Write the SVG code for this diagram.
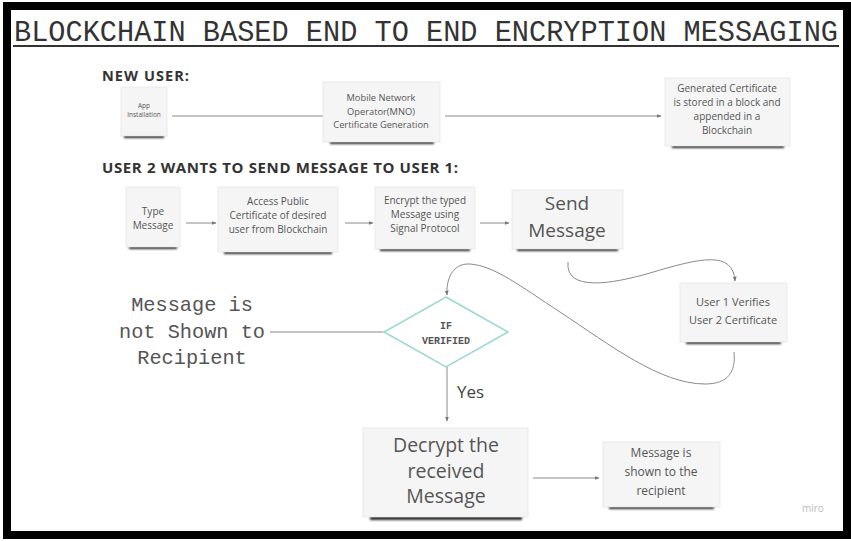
<svg xmlns="http://www.w3.org/2000/svg" width="851" height="541" viewBox="0 0 851 541">
<style>
.box{fill:#f5f5f5;stroke:#e6e6e6;stroke-width:0.8}
.sh{fill:#2a2a2a;filter:url(#blur)}
.t{font-family:"Open Sans","Liberation Sans",sans-serif;fill:#555;text-anchor:middle}
.mono{font-family:"Liberation Mono","DejaVu Sans Mono",monospace;fill:#555;text-anchor:middle}
.head{font-family:"Open Sans","Liberation Sans",sans-serif;font-weight:bold;fill:#333}
.c{fill:none;stroke:#8a8a8a;stroke-width:1}
</style>
<defs>
<filter id="blur" x="-20%" y="-200%" width="140%" height="500%"><feGaussianBlur stdDeviation="1.3"/></filter>
<marker id="ah" viewBox="0 0 10 10" refX="9" refY="5" markerWidth="5" markerHeight="5" orient="auto"><path d="M0,1 L10,5 L0,9 z" fill="#777"/></marker>
</defs>
<rect x="0" y="0" width="851" height="541" fill="#ffffff"/>
<rect x="7" y="6" width="840" height="529" fill="#ffffff" stroke="#000" stroke-width="8"/>
<text x="14" y="41" font-family="Liberation Mono, DejaVu Sans Mono, monospace" font-size="29" fill="#333" textLength="824" lengthAdjust="spacingAndGlyphs">BLOCKCHAIN BASED END TO END ENCRYPTION MESSAGING</text>
<line x1="13" y1="46" x2="839" y2="46" stroke="#333" stroke-width="2"/>
<text class="head" x="102" y="81" font-size="14.5" textLength="87">NEW USER:</text>
<text class="head" x="102" y="173" font-size="15" textLength="356">USER 2 WANTS TO SEND MESSAGE TO USER 1:</text>
<g id="connectors">
<line class="c" x1="172" y1="116" x2="329" y2="116" marker-end="url(#ah)"/>
<line class="c" x1="445" y1="116" x2="661" y2="116" marker-end="url(#ah)"/>
<line class="c" x1="186" y1="223" x2="216" y2="223" marker-end="url(#ah)"/>
<line class="c" x1="345" y1="223" x2="373" y2="223" marker-end="url(#ah)"/>
<line class="c" x1="480" y1="223" x2="509" y2="223" marker-end="url(#ah)"/>
<path class="c" d="M568,262 C565,292 612,284 650,273 C700,258 733,250 735,281" marker-end="url(#ah)"/>
<path class="c" d="M734,352 C736,372 728,384 705,384 C660,384 610,345 560,312 C520,286 495,266 470,264 C452,263 446,280 447,295" marker-end="url(#ah)"/>
<line class="c" x1="383" y1="332" x2="270" y2="332"/>
<line class="c" x1="447" y1="367" x2="447" y2="421" marker-end="url(#ah)"/>
<line class="c" x1="533" y1="478" x2="599" y2="478" marker-end="url(#ah)"/>
</g>
<g id="app">
<rect class="sh" x="124" y="134" width="40" height="4"/>
<rect class="box" x="121" y="87" width="46" height="49"/>
<text class="t" font-size="6.5"><tspan x="144" y="108">App</tspan><tspan x="144" y="117">Installation</tspan></text>
</g>
<g id="mno">
<rect class="sh" x="330" y="140" width="104" height="4"/>
<rect class="box" x="323" y="82" width="117" height="60"/>
<text class="t" font-size="9.3"><tspan x="381" y="101">Mobile Network</tspan><tspan x="381" y="115">Operator(MNO)</tspan><tspan x="381" y="128">Certificate Generation</tspan></text>
</g>
<g id="cert">
<rect class="sh" x="672" y="144" width="112" height="4"/>
<rect class="box" x="665" y="78" width="125" height="68"/>
<text class="t" font-size="10"><tspan x="727" y="92">Generated Certificate</tspan><tspan x="727" y="106">is stored in a block and</tspan><tspan x="727" y="120">appended in a</tspan><tspan x="727" y="134">Blockchain</tspan></text>
</g>
<g id="type">
<rect class="sh" x="129" y="245" width="48" height="4"/>
<rect class="box" x="126" y="187" width="54" height="60"/>
<text class="t" font-size="10"><tspan x="153" y="215">Type</tspan><tspan x="153" y="229">Message</tspan></text>
</g>
<g id="access">
<rect class="sh" x="224" y="250" width="108" height="4"/>
<rect class="box" x="218" y="187" width="120" height="65"/>
<text class="t" font-size="10"><tspan x="278" y="205">Access Public</tspan><tspan x="278" y="219">Certificate of desired</tspan><tspan x="278" y="233">user from Blockchain</tspan></text>
</g>
<g id="encrypt">
<rect class="sh" x="380" y="247" width="90" height="4"/>
<rect class="box" x="375" y="187" width="100" height="62"/>
<text class="t" font-size="10"><tspan x="425" y="204">Encrypt the typed</tspan><tspan x="425" y="218">Message using</tspan><tspan x="425" y="232">Signal Protocol</tspan></text>
</g>
<g id="send">
<rect class="sh" x="517" y="247" width="101" height="4"/>
<rect class="box" x="512" y="190" width="111" height="59"/>
<text class="t" font-size="19"><tspan x="567" y="210">Send</tspan><tspan x="567" y="237">Message</tspan></text>
</g>
<g id="verify">
<rect class="sh" x="686" y="340" width="95" height="4"/>
<rect class="box" x="680" y="283" width="107" height="59"/>
<text class="t" font-size="11"><tspan x="733" y="306">User 1 Verifies</tspan><tspan x="733" y="324">User 2 Certificate</tspan></text>
</g>
<g id="decision">
<polygon points="446,297 508,332 446,367 384,332" fill="#ffffff" stroke="#9ad8d2" stroke-width="1.5"/>
<text class="mono" font-size="10" font-weight="bold" fill="#333"><tspan x="446" y="329">IF</tspan><tspan x="446" y="344">VERIFIED</tspan></text>
<text x="457" y="398" font-family="Open Sans, Liberation Sans, sans-serif" font-size="17" fill="#444">Yes</text>
</g>
<g id="notshown">
<text class="mono" font-size="20.3"><tspan x="192" y="311">Message is</tspan><tspan x="192" y="338">not Shown to</tspan><tspan x="192" y="364">Recipient</tspan></text>
</g>
<g id="decrypt">
<rect class="sh" x="370" y="515" width="152" height="5"/>
<rect class="box" x="363" y="428" width="165" height="89"/>
<text class="t" font-size="19.5"><tspan x="446" y="452">Decrypt the</tspan><tspan x="446" y="477.5">received</tspan><tspan x="446" y="503">Message</tspan></text>
</g>
<g id="shown">
<rect class="sh" x="609" y="505" width="105" height="4"/>
<rect class="box" x="603" y="442" width="117" height="65"/>
<text class="t" font-size="12"><tspan x="661" y="457">Message is</tspan><tspan x="661" y="476">shown to the</tspan><tspan x="661" y="495">recipient</tspan></text>
</g>
<text x="802" y="512" font-family="Open Sans, Liberation Sans, sans-serif" font-size="10" fill="#bbb">miro</text>
</svg>
